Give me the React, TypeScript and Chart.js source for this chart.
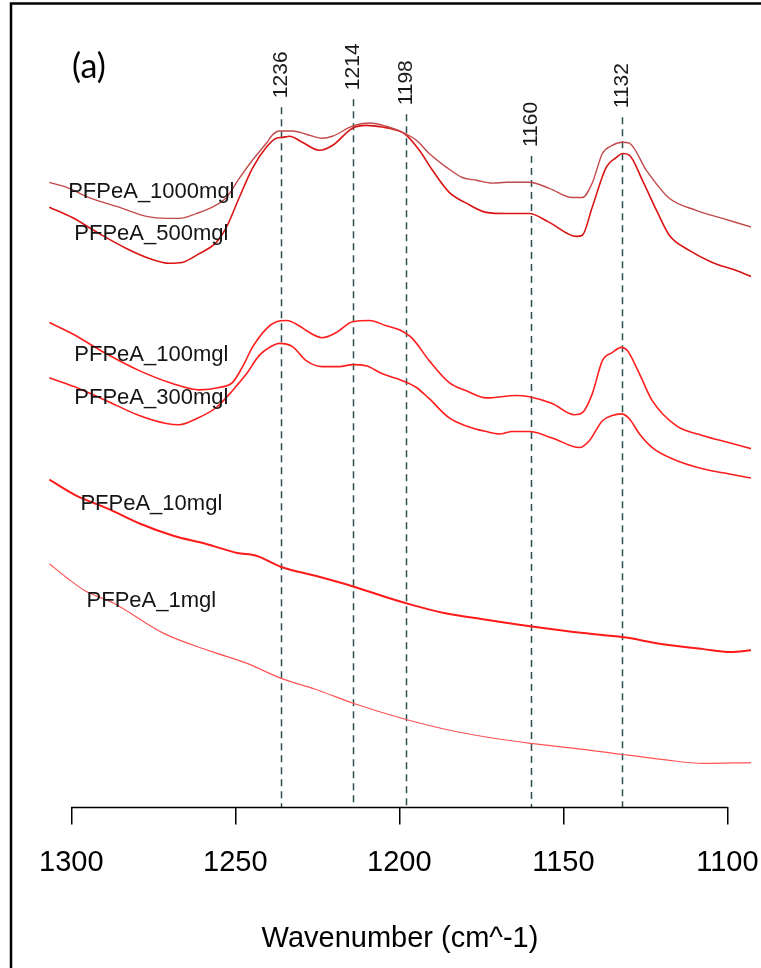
import React, { useEffect, useRef } from "react";
import { Chart, registerables } from "chart.js";

Chart.register(...registerables);

// ---- data (wavenumber cm^-1, absorbance with offset, arbitrary units) ----
const X_TICKS = [1300, 1250, 1200, 1150, 1100];
const PEAKS = [1236, 1214, 1198, 1160, 1132];
const PEAK_LABEL_Y = [0.885, 0.895, 0.876, 0.824, 0.8725];

const SERIES_NAMES = [
  "PFPeA_1000mgl",
  "PFPeA_500mgl",
  "PFPeA_100mgl",
  "PFPeA_300mgl",
  "PFPeA_10mgl",
  "PFPeA_1mgl",
];
const SERIES_LABEL_X = 1275.6;
const SERIES_LABEL_Y = [0.7675, 0.716, 0.564, 0.511, 0.379, 0.2575];

const PFPeA_1000mgl: [number, number][] = [
  [1306.7, 0.78], [1301.6, 0.774], [1294.5, 0.761], [1284.4, 0.7475], [1277.1, 0.7375],
  [1271.0, 0.735], [1267.1, 0.735], [1261.9, 0.741], [1257.0, 0.749], [1252.7, 0.761],
  [1248.8, 0.785], [1244.8, 0.8075], [1240.5, 0.829], [1238.7, 0.839], [1236.6, 0.844],
  [1232.6, 0.844], [1228.4, 0.84], [1223.5, 0.835], [1220.4, 0.8375], [1214.3, 0.85],
  [1209.1, 0.854], [1204.0, 0.85], [1199.1, 0.8425], [1194.8, 0.8325], [1190.9, 0.816],
  [1185.7, 0.799], [1180.8, 0.786], [1176.5, 0.7825], [1171.6, 0.779], [1167.4, 0.78],
  [1160.4, 0.78], [1154.3, 0.7725], [1147.3, 0.761], [1144.2, 0.761], [1141.2, 0.779],
  [1138.1, 0.816], [1135.1, 0.826], [1132.0, 0.83], [1129.9, 0.829], [1124.7, 0.795],
  [1117.7, 0.76], [1109.5, 0.745], [1101.5, 0.735], [1092.7, 0.724],
];

const PFPeA_500mgl: [number, number][] = [
  [1306.7, 0.749], [1299.7, 0.736], [1291.5, 0.716], [1283.2, 0.6975], [1276.2, 0.685],
  [1270.1, 0.679], [1266.2, 0.68], [1261.0, 0.691], [1255.8, 0.705], [1252.7, 0.724],
  [1248.8, 0.761], [1244.8, 0.7975], [1240.5, 0.824], [1237.5, 0.835], [1235.7, 0.836],
  [1233.5, 0.8375], [1229.6, 0.83], [1224.4, 0.82], [1220.4, 0.826], [1214.3, 0.8475],
  [1210.1, 0.851], [1205.2, 0.849], [1200.0, 0.844], [1197.9, 0.839], [1193.9, 0.82],
  [1189.9, 0.795], [1184.8, 0.7675], [1179.6, 0.754], [1173.5, 0.7425], [1167.4, 0.741],
  [1160.4, 0.741], [1154.3, 0.73], [1146.0, 0.7125], [1144.2, 0.714], [1141.2, 0.749],
  [1136.9, 0.799], [1133.8, 0.811], [1132.0, 0.816], [1129.9, 0.814], [1125.9, 0.7825],
  [1121.6, 0.745], [1117.7, 0.714], [1111.6, 0.695], [1104.6, 0.68], [1097.3, 0.67],
  [1092.7, 0.6625],
];

const PFPeA_100mgl: [number, number][] = [
  [1306.7, 0.605], [1299.7, 0.591], [1289.3, 0.566], [1279.3, 0.545], [1269.2, 0.529],
  [1261.0, 0.521], [1254.9, 0.524], [1250.9, 0.53], [1247.9, 0.549], [1244.8, 0.574],
  [1240.5, 0.5975], [1237.5, 0.606], [1234.4, 0.6075], [1230.5, 0.601], [1228.4, 0.595],
  [1223.5, 0.586], [1219.2, 0.5925], [1214.3, 0.606], [1209.1, 0.6075], [1204.0, 0.601],
  [1200.0, 0.596], [1196.0, 0.585], [1190.9, 0.5575], [1184.8, 0.53], [1179.6, 0.52],
  [1173.5, 0.511], [1164.3, 0.514], [1160.4, 0.5125], [1153.4, 0.504], [1146.6, 0.49],
  [1144.2, 0.4925], [1141.2, 0.516], [1138.1, 0.5575], [1135.1, 0.5675], [1132.3, 0.574],
  [1130.5, 0.57], [1126.8, 0.541], [1122.9, 0.5075], [1115.5, 0.476], [1107.6, 0.464],
  [1099.4, 0.455], [1092.7, 0.4475],
];

const PFPeA_300mgl: [number, number][] = [
  [1306.7, 0.536], [1297.6, 0.5225], [1289.3, 0.5075], [1279.3, 0.489], [1271.0, 0.479],
  [1267.1, 0.4775], [1261.9, 0.485], [1255.8, 0.499], [1250.9, 0.52], [1246.6, 0.541],
  [1242.7, 0.564], [1238.7, 0.576], [1236.6, 0.579], [1232.6, 0.575], [1228.4, 0.5575],
  [1223.5, 0.55], [1218.3, 0.55], [1214.3, 0.5525], [1210.1, 0.551], [1205.2, 0.541],
  [1199.1, 0.5325], [1194.8, 0.524], [1190.9, 0.51], [1184.8, 0.486], [1179.6, 0.476],
  [1173.5, 0.469], [1169.5, 0.466], [1165.5, 0.469], [1160.4, 0.469], [1153.4, 0.461],
  [1145.1, 0.449], [1142.1, 0.4575], [1138.1, 0.4825], [1135.1, 0.489], [1132.3, 0.491],
  [1129.9, 0.485], [1126.8, 0.466], [1122.9, 0.449], [1116.8, 0.435], [1107.6, 0.4225],
  [1099.4, 0.416], [1092.7, 0.411],
];

const PFPeA_10mgl: [number, number][] = [
  [1306.7, 0.409], [1298.5, 0.389], [1288.7, 0.3725], [1279.0, 0.354], [1268.9, 0.339],
  [1259.1, 0.329], [1249.4, 0.3175], [1243.6, 0.314], [1236.0, 0.3], [1225.6, 0.289],
  [1214.3, 0.276], [1203.0, 0.261], [1197.3, 0.254], [1186.3, 0.2425], [1175.0, 0.235],
  [1160.1, 0.226], [1143.9, 0.2175], [1132.0, 0.2125], [1120.1, 0.204], [1107.3, 0.1975],
  [1099.1, 0.194], [1092.7, 0.196],
];

const PFPeA_1mgl: [number, number][] = [
  [1306.7, 0.304], [1301.2, 0.286], [1295.7, 0.27], [1287.2, 0.255], [1272.0, 0.2175],
  [1257.6, 0.195], [1246.6, 0.18], [1236.0, 0.161], [1225.6, 0.1475], [1213.4, 0.129],
  [1198.2, 0.11], [1183.2, 0.095], [1169.2, 0.085], [1160.1, 0.08], [1143.9, 0.0725],
  [1132.0, 0.066], [1120.1, 0.06], [1107.3, 0.055], [1092.7, 0.056],
];

const SERIES_DATA = [PFPeA_1000mgl, PFPeA_500mgl, PFPeA_100mgl, PFPeA_300mgl, PFPeA_10mgl, PFPeA_1mgl];
const SERIES_COLORS = ["#C24A4A", "#DA1414", "#FF1E1E", "#FF1E1E", "#FF1A1A", "#FF5454"];
const SERIES_WIDTHS = [1.4, 1.6, 1.6, 1.6, 2, 1.2];

const FONT = '"Liberation Sans", Arial, sans-serif';

const decorPlugin = {
  id: "decor",
  beforeDraw(chart: any) {
    const ctx = chart.ctx;
    ctx.save();
    ctx.fillStyle = "#ffffff";
    ctx.fillRect(0, 0, chart.width, chart.height);
    ctx.restore();
  },
  beforeDatasetsDraw(chart: any) {
    const ctx = chart.ctx;
    const xs = chart.scales.x;
    const ys = chart.scales.y;
    ctx.save();
    PEAKS.forEach((p, i) => {
      const px = Math.round(xs.getPixelForValue(p)) + 0.5;
      const ly = ys.getPixelForValue(PEAK_LABEL_Y[i]);
      ctx.strokeStyle = "#2F4F4F";
      ctx.lineWidth = 1.5;
      ctx.setLineDash([7, 5]);
      ctx.beginPath();
      ctx.moveTo(px, ly + 9);
      ctx.lineTo(px, ys.getPixelForValue(0));
      ctx.stroke();
      ctx.setLineDash([]);
      ctx.save();
      ctx.translate(px, ly);
      ctx.rotate(-Math.PI / 2);
      ctx.fillStyle = "#1a1a1a";
      ctx.font = "21px " + FONT;
      ctx.textAlign = "left";
      ctx.textBaseline = "middle";
      ctx.fillText(String(p), 0, 0);
      ctx.restore();
    });
    ctx.restore();
  },
  afterDraw(chart: any) {
    const ctx = chart.ctx;
    const xs = chart.scales.x;
    const ys = chart.scales.y;
    ctx.save();
    // x axis line spanning first to last tick
    const y0 = Math.round(ys.getPixelForValue(0)) + 0.5;
    ctx.strokeStyle = "#000";
    ctx.lineWidth = 1.5;
    ctx.beginPath();
    ctx.moveTo(xs.getPixelForValue(X_TICKS[0]), y0);
    ctx.lineTo(xs.getPixelForValue(X_TICKS[X_TICKS.length - 1]), y0);
    ctx.stroke();
    // series labels
    ctx.fillStyle = "#151515";
    ctx.font = "22px " + FONT;
    ctx.textAlign = "center";
    ctx.textBaseline = "middle";
    SERIES_NAMES.forEach((n, i) => {
      ctx.fillText(n, xs.getPixelForValue(SERIES_LABEL_X), ys.getPixelForValue(SERIES_LABEL_Y[i]));
    });
    // panel letter
    ctx.font = '34px Lato, "Open Sans", sans-serif';
    ctx.textAlign = "left";
    ctx.fillStyle = "#000";
    ctx.fillText("(a)", 72, 67);
    // outer frame
    ctx.strokeStyle = "#000";
    ctx.lineWidth = 2.5;
    ctx.strokeRect(11, 3.5, 900, 1100);
    ctx.restore();
  },
};

export default function App() {
  const ref = useRef<HTMLCanvasElement | null>(null);
  useEffect(() => {
    if (!ref.current) return;
    const chart = new Chart(ref.current, {
      type: "line",
      data: {
        datasets: SERIES_DATA.map((d, i) => ({
          label: SERIES_NAMES[i],
          data: d.map(([x, y]) => ({ x, y })),
          borderColor: SERIES_COLORS[i],
          borderWidth: SERIES_WIDTHS[i],
          pointRadius: 0,
          fill: false,
          cubicInterpolationMode: "monotone" as const,
        })),
      },
      options: {
        animation: false,
        responsive: false,
        maintainAspectRatio: false,
        devicePixelRatio: 1,
        layout: { padding: { left: 49, right: 10, top: 6, bottom: 12 } },
        plugins: {
          legend: { display: false },
          tooltip: { enabled: false },
        },
        scales: {
          x: {
            type: "linear",
            reverse: true,
            min: 1092.8,
            max: 1306.8,
            afterBuildTicks: (s: any) => {
              s.ticks = X_TICKS.map((v) => ({ value: v }));
            },
            afterFit: (s: any) => {
              s.paddingLeft = 0;
              s.paddingRight = 0;
            },
            ticks: {
              autoSkip: false,
              maxRotation: 0,
              padding: 21,
              color: "#000",
              font: { family: FONT, size: 29 },
              callback: (v: any) => String(v),
            },
            grid: {
              drawOnChartArea: false,
              drawTicks: true,
              tickLength: 17,
              color: "#000",
              lineWidth: 1.5,
            },
            border: { display: false },
            title: {
              display: true,
              text: "Wavenumber (cm^-1)",
              color: "#000",
              font: { family: FONT, size: 29 },
              padding: { top: 20, bottom: 0 },
            },
          },
          y: { display: false, min: 0, max: 1 },
        },
      },
      plugins: [decorPlugin],
    });
    return () => chart.destroy();
  }, []);
  return (
    <div style={{ position: "fixed", left: 0, top: 0, width: 761, height: 968, background: "#fff" }}>
      <canvas ref={ref} width={761} height={968} style={{ display: "block" }} />
    </div>
  );
}
